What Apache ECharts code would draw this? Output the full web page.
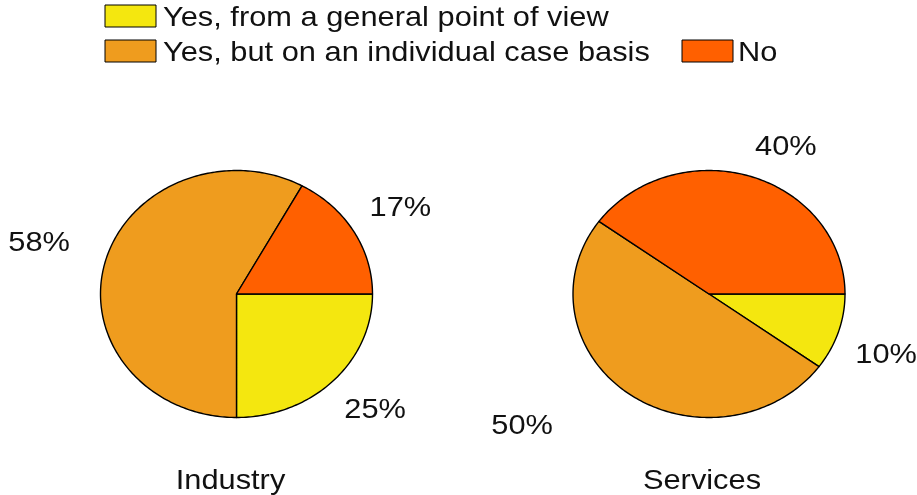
<!DOCTYPE html>
<html>
<head>
<meta charset="utf-8">
<script src="https://cdn.jsdelivr.net/npm/echarts@6/dist/echarts.min.js"></script>
<style>
  html, body { margin: 0; padding: 0; background: #fff; }
  #chart { width: 917px; height: 495px; }
</style>
</head>
<body>
<div id="chart"></div>
<script>
// Answer categories (legend order) and the share of each answer per sector, in %
const categories = ['Yes, from a general point of view', 'Yes, but on an individual case basis', 'No'];
const sectors = ['Industry', 'Services'];
const industryShares = [25, 58, 17];
const servicesShares = [10, 50, 40];

// Styling
const sliceColors = ['#F4E70F', '#EF9C1E', '#FF6000'];
const FONT = "'Liberation Sans', Arial, Helvetica, sans-serif";
const FONT_SIZE = 28;
const TEXT_STRETCH = 1.1;
const TEXT_SHIFT_Y = 2;
const TEXT_COLOR = '#111';

// Elliptical pie geometry and label placement (pixels)
const pieGeometry = [
  { cx: 236.5, cy: 294, rx: 136, ry: 123.5, titleDx: -6,
    labelNudge: [[4, -8], [-13, -10], [0, 0]] },
  { cx: 709, cy: 294, rx: 136, ry: 123.5, titleDx: -7,
    labelNudge: [[-4, 6], [-75, -10], [18, 16]] }
];
const LABEL_FACTOR = 1.4;
const TITLE_Y = 479;

function stretchedText(text, x, y, align) {
  return {
    type: 'text', x: x, y: y + TEXT_SHIFT_Y, scaleX: TEXT_STRETCH,
    style: {
      text: text, x: 0, y: 0, fill: TEXT_COLOR,
      font: FONT_SIZE + 'px ' + FONT,
      align: align || 'center', verticalAlign: 'middle'
    }
  };
}

function pieSeries(name, shares, geo) {
  const total = shares.reduce((a, b) => a + b, 0);
  return {
    type: 'custom',
    name: name,
    coordinateSystem: 'none',
    silent: true,
    data: shares.map((v, i) => [v, i]),
    renderItem: function (params, api) {
      const i = params.dataIndex;
      const value = api.value(0);
      let before = 0;
      for (let k = 0; k < i; k++) before += shares[k];
      // clockwise from 3 o'clock (screen y grows downward)
      const a0 = before / total * Math.PI * 2;
      const a1 = (before + value) / total * Math.PI * 2;
      const steps = Math.max(2, Math.ceil((a1 - a0) / (Math.PI / 180)));
      const pts = [[geo.cx, geo.cy]];
      for (let s = 0; s <= steps; s++) {
        const a = a0 + (a1 - a0) * s / steps;
        pts.push([geo.cx + geo.rx * Math.cos(a), geo.cy + geo.ry * Math.sin(a)]);
      }
      const mid = (a0 + a1) / 2;
      const nudge = geo.labelNudge[i];
      const lx = geo.cx + LABEL_FACTOR * geo.rx * Math.cos(mid) + nudge[0];
      const ly = geo.cy + LABEL_FACTOR * geo.ry * Math.sin(mid) + nudge[1];
      return {
        type: 'group',
        children: [
          {
            type: 'polygon',
            shape: { points: pts },
            style: { fill: sliceColors[i], stroke: '#000', lineWidth: 1.4, lineJoin: 'round' }
          },
          stretchedText(value + '%', lx, ly, 'center')
        ]
      };
    }
  };
}

// Legend drawn as boxes + labels in two rows
const legendItems = [
  { idx: 0, box: [105, 5], text: [163, 16] },
  { idx: 1, box: [105, 40], text: [163, 51] },
  { idx: 2, box: [682, 40], text: [738, 51] }
];
const graphics = [];
legendItems.forEach(function (it) {
  graphics.push({
    type: 'rect',
    shape: { x: it.box[0], y: it.box[1], width: 51, height: 22 },
    style: { fill: sliceColors[it.idx], stroke: '#000', lineWidth: 1 }
  });
  graphics.push(stretchedText(categories[it.idx], it.text[0], it.text[1], 'left'));
});
sectors.forEach(function (name, j) {
  const geo = pieGeometry[j];
  graphics.push(stretchedText(name, geo.cx + geo.titleDx, TITLE_Y, 'center'));
});

const chart = echarts.init(document.getElementById('chart'), null, { renderer: 'canvas' });
chart.setOption({
  backgroundColor: '#fff',
  animation: false,
  graphic: graphics,
  series: [
    pieSeries(sectors[0], industryShares, pieGeometry[0]),
    pieSeries(sectors[1], servicesShares, pieGeometry[1])
  ]
});
</script>
</body>
</html>
